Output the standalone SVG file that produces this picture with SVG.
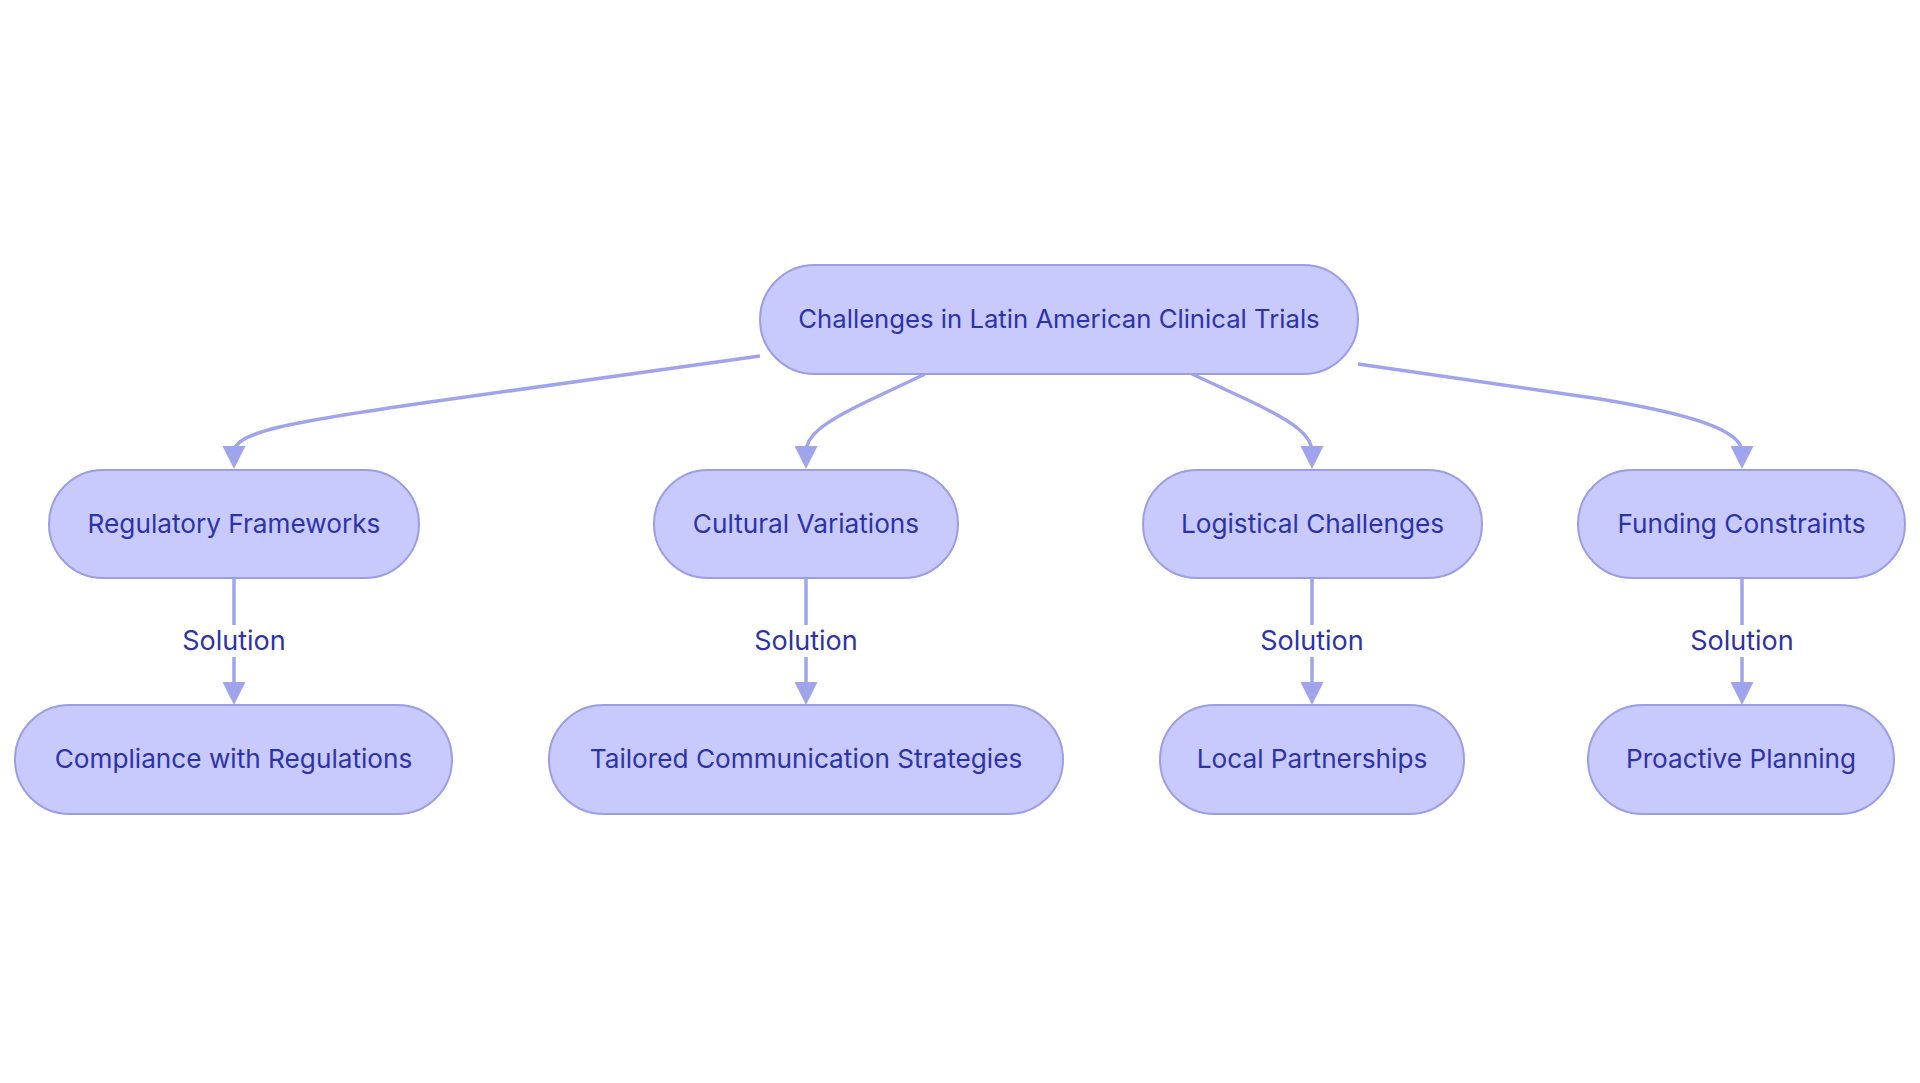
<svg xmlns="http://www.w3.org/2000/svg" width="1920" height="1083" viewBox="0 0 1920 1083">
<style>
.node rect{fill:#c8cafe;stroke:#9a9ee6;stroke-width:2}
.node text,.lbl text{font-family:Inter,"Noto Sans","Liberation Sans",sans-serif;font-size:26.2px;fill:#2d32a8;text-anchor:middle;dominant-baseline:central}
.lbl text{font-size:27px}
#n-main text{font-size:25.7px}
.edge{fill:none;stroke:#a0a4ec;stroke-width:3.5}
.lbl rect{fill:#ffffff}
</style>
<defs>
<marker id="ah" viewBox="0 0 10 10" refX="7.4" refY="5" markerUnits="userSpaceOnUse" markerWidth="23" markerHeight="23" orient="auto">
<path d="M0,0 L10,5 L0,10 z" fill="#a0a4ec"/>
</marker>
</defs>
<rect width="1920" height="1083" fill="#ffffff"/>
<g id="connectors">
<path class="edge" marker-end="url(#ah)" d="M760,356 L430,402 C290,422 234,432 234,452 L234,463"/>
<path class="edge" marker-end="url(#ah)" d="M925,374 L868,401 C822,423 806,436 806,452 L806,463"/>
<path class="edge" marker-end="url(#ah)" d="M1192,374 L1250,401 C1296,423 1312,436 1312,452 L1312,463"/>
<path class="edge" marker-end="url(#ah)" d="M1358,364 L1600,399 C1690,414 1742,430 1742,452 L1742,463"/>
<path class="edge" marker-end="url(#ah)" d="M234,578 L234,699"/>
<path class="edge" marker-end="url(#ah)" d="M806,578 L806,699"/>
<path class="edge" marker-end="url(#ah)" d="M1312,578 L1312,699"/>
<path class="edge" marker-end="url(#ah)" d="M1742,578 L1742,699"/>
<g class="lbl"><rect x="179" y="625" width="110" height="32"/><text x="234" y="640">Solution</text></g>
<g class="lbl"><rect x="751" y="625" width="110" height="32"/><text x="806" y="640">Solution</text></g>
<g class="lbl"><rect x="1257" y="625" width="110" height="32"/><text x="1312" y="640">Solution</text></g>
<g class="lbl"><rect x="1687" y="625" width="110" height="32"/><text x="1742" y="640">Solution</text></g>
</g>
<g id="n-main" class="node"><rect x="760" y="265" width="598" height="109" rx="54.5"/><text x="1059" y="318.5">Challenges in Latin American Clinical Trials</text></g>
<g id="n-reg" class="node"><rect x="49" y="470" width="370" height="108" rx="54"/><text x="234" y="523">Regulatory Frameworks</text></g>
<g id="n-cult" class="node"><rect x="654" y="470" width="304" height="108" rx="54"/><text x="806" y="523">Cultural Variations</text></g>
<g id="n-log" class="node"><rect x="1143" y="470" width="339" height="108" rx="54"/><text x="1312.5" y="523">Logistical Challenges</text></g>
<g id="n-fund" class="node"><rect x="1578" y="470" width="327" height="108" rx="54"/><text x="1741.5" y="523">Funding Constraints</text></g>
<g id="n-comp" class="node"><rect x="15" y="705" width="437" height="109" rx="54.5"/><text x="233.5" y="758.5">Compliance with Regulations</text></g>
<g id="n-tail" class="node"><rect x="549" y="705" width="514" height="109" rx="54.5"/><text x="806" y="758.5">Tailored Communication Strategies</text></g>
<g id="n-local" class="node"><rect x="1160" y="705" width="304" height="109" rx="54.5"/><text x="1312" y="758.5">Local Partnerships</text></g>
<g id="n-proact" class="node"><rect x="1588" y="705" width="306" height="109" rx="54.5"/><text x="1741" y="758.5">Proactive Planning</text></g>
</svg>
